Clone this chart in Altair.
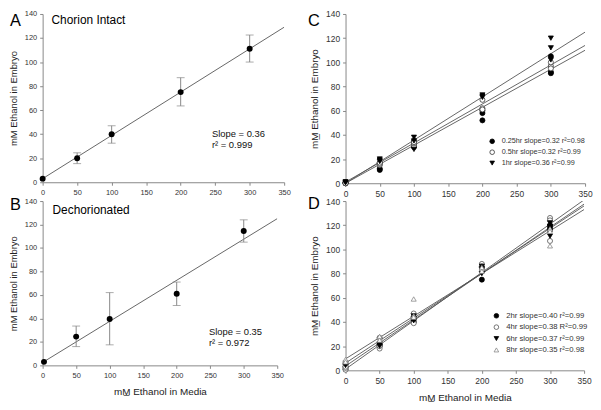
import altair as alt
import pandas as pd

FONT = "Liberation Sans"

x_ticks = [0, 50, 100, 150, 200, 250, 300, 350]
y_ticks = [0, 20, 40, 60, 80, 100, 120, 140]

# Panel A - Chorion Intact
a_x = [0, 50, 100, 200, 300]
a_mean = [3, 20, 40, 75, 111]
a_low = [3, 15.5, 32.5, 63.5, 100]
a_high = [3, 24.5, 47, 87, 122.5]
a_fit_x = [0, 350]
a_fit_y = [3, 129]

# Panel B - Dechorionated
b_x = [2, 50, 100, 200, 300]
b_mean = [3, 24.5, 39.5, 61, 114.5]
b_low = [3, 16, 17.5, 51, 105]
b_high = [3, 33.5, 62, 71, 124]
b_fit_x = [0, 350]
b_fit_y = [2.5, 125]

# Panel C - short exposures
c_labels = ["0.25hr slope=0.32 r²=0.98", "0.5hr slope=0.32 r²=0.99", "1hr slope=0.36 r²=0.99"]
c_x = [0, 0, 0, 50, 50, 50, 100, 100, 100, 200, 200, 200, 300, 300, 300]
c_y_025 = [0, 0.5, 0, 12, 11, 17, 30, 33, 35, 52, 58, 60, 105, 92, 91]
c_y_05 = [0.5, 1, 0, 15, 16, 17, 31, 33, 34, 62, 69, 61, 97, 95, 100]
c_y_1 = [1, 0.5, 1, 20, 19, 18, 38, 35, 28, 73, 71, 72, 120, 112, 102]
c_fit_x = [0, 350]
c_fit_025 = [0, 110]
c_fit_05 = [1, 114]
c_fit_1 = [0, 125]

# Panel D - long exposures
d_labels = ["2hr slope=0.40 r²=0.99", "4hr slope=0.38 R²=0.99", "6hr slope=0.37 r²=0.99", "8hr slope=0.35 r²=0.98"]
d_x = c_x
d_y_2 = [1, 3, 5, 21, 22, 20, 42, 44, 40, 75, 82, 85, 118, 120, 116]
d_y_4 = [0.5, 2, 3, 18, 20, 27, 47, 39, 44, 88, 86, 83, 126, 124, 107]
d_y_6 = [5, 6, 4, 22, 20, 25, 41, 43, 45, 80, 86, 84, 122, 111, 119]
d_y_8 = [8, 9, 7, 27, 28, 25, 59, 45, 44, 84, 85, 82, 103, 117, 115]
d_fit_x = [0, 350]
d_fit_2 = [1, 141]
d_fit_4 = [3.5, 137.5]
d_fit_6 = [6, 136]
d_fit_8 = [9.5, 133]

YT_PLAIN = "mM Ethanol in Embryo"
YT_UNDER = "mM\u0332 Ethanol in Embryo"
MEDIA = "mM\u0332 Ethanol in Media"


def axis(vals, title, lsize, tsize, tpad):
    kw = dict(values=vals, grid=False, domainColor="#888", tickColor="#888", tickSize=3,
              labelColor="#333", labelFont=FONT, labelFontSize=lsize, labelFlush=False,
              labelOverlap=False, labelPadding=3, titleFont=FONT, titleFontSize=tsize,
              titleFontWeight="normal", titleColor="#222", titlePadding=tpad)
    kw["title"] = title
    return alt.Axis(**kw)


def enc_x(field, title, lsize, tsize):
    return alt.X(field, scale=alt.Scale(domain=[0, 350], nice=False),
                 axis=axis(x_ticks, title, lsize, tsize, 8))


def enc_y(field, title, lsize, tsize):
    return alt.Y(field, scale=alt.Scale(domain=[0, 140], nice=False),
                 axis=axis(y_ticks, title, lsize, tsize, 6))


def texts(items):
    layers = []
    for t, x, y, size, color in items:
        layers.append(
            alt.Chart(pd.DataFrame({"t": [t]})).mark_text(
                align="left", baseline="alphabetic", font=FONT, fontSize=size, color=color
            ).encode(text="t:N", x=alt.value(x), y=alt.value(y))
        )
    return layers


def mean_panel(xs, mean, low, high, fx, fy, w, h, xtitle, ytitle, notes):
    ls, ts = 7.5, 9.5
    df = pd.DataFrame({"x": xs, "m": mean, "lo": low, "hi": high})
    base = alt.Chart(df)
    X = enc_x("x:Q", xtitle, ls, 10)
    fit = alt.Chart(pd.DataFrame({"x": fx, "y": fy})).mark_line(
        color="#555", strokeWidth=0.9, clip=True
    ).encode(x=X, y=enc_y("y:Q", ytitle, ls, ts))
    eb = base.transform_filter("datum.hi > datum.lo")
    err = eb.mark_rule(color="#888", strokeWidth=1).encode(
        x=X, y=enc_y("lo:Q", ytitle, ls, ts), y2="hi:Q")
    cap_lo = eb.mark_tick(orient="horizontal", size=8, thickness=1, color="#888").encode(
        x=X, y=enc_y("lo:Q", ytitle, ls, ts))
    cap_hi = eb.mark_tick(orient="horizontal", size=8, thickness=1, color="#888").encode(
        x=X, y=enc_y("hi:Q", ytitle, ls, ts))
    pts = base.mark_circle(size=36, color="black", opacity=1).encode(
        x=X, y=enc_y("m:Q", ytitle, ls, ts))
    return alt.layer(fit, err, cap_lo, cap_hi, pts, *texts(notes)).properties(width=w, height=h)


def series_panel(labels, xs, ys_list, fx, fy_list, shapes, fills, strokes, w, h, xtitle, ytitle,
                 legx, legy, lfont, rowpad, notes):
    ls, ts = 8.5, 10
    rows = []
    for lab, ys in zip(labels, ys_list):
        for xv, yv in zip(xs, ys):
            rows.append({"x": xv, "y": yv, "s": lab})
    df = pd.DataFrame(rows)
    frows = []
    for lab, fy in zip(labels, fy_list):
        for xv, yv in zip(fx, fy):
            frows.append({"x": xv, "y": yv, "s": lab})
    fdf = pd.DataFrame(frows)
    X = enc_x("x:Q", xtitle, ls, 10)
    Y = enc_y("y:Q", ytitle, ls, ts)
    leg = alt.Legend(title=None, orient="none", legendX=legx, legendY=legy, padding=0,
                     labelFont=FONT, labelFontSize=lfont, labelColor="#333", rowPadding=rowpad,
                     symbolSize=22, labelOffset=6, symbolStrokeWidth=0.8)
    fit = alt.Chart(fdf).mark_line(color="#555", strokeWidth=0.9, clip=True).encode(
        x=X, y=Y, detail="s:N")
    pts = alt.Chart(df).mark_point(filled=True, size=26, opacity=1, strokeWidth=0.8).encode(
        x=X, y=Y,
        shape=alt.Shape("s:N", scale=alt.Scale(domain=labels, range=shapes), legend=leg),
        fill=alt.Fill("s:N", scale=alt.Scale(domain=labels, range=fills), legend=leg),
        stroke=alt.Stroke("s:N", scale=alt.Scale(domain=labels, range=strokes), legend=leg),
    )
    return alt.layer(fit, pts, *texts(notes)).properties(width=w, height=h)


panel_a = mean_panel(a_x, a_mean, a_low, a_high, a_fit_x, a_fit_y, 244, 170, None, YT_PLAIN,
                     [("A", -33, 12, 16.5, "black"), ("Chorion Intact", 9, 10, 12, "black"),
                      ("Slope = 0.36", 171, 124, 9.5, "#111"), ("r² = 0.999", 171, 135.5, 9.5, "#111")])
panel_b = mean_panel(b_x, b_mean, b_low, b_high, b_fit_x, b_fit_y, 237, 166, MEDIA, YT_PLAIN,
                     [("B", -33, 9, 16.5, "black"), ("Dechorionated", 10, 13, 12, "black"),
                      ("Slope = 0.35", 168, 135, 9.5, "#111"), ("r² = 0.972", 168, 146.5, 9.5, "#111")])
panel_c = series_panel(c_labels, c_x, [c_y_025, c_y_05, c_y_1], c_fit_x, [c_fit_025, c_fit_05, c_fit_1],
                       ["circle", "circle", "triangle-down"], ["black", "white", "black"],
                       ["black", "#333", "black"], 242, 171, None, YT_UNDER, 144.5, 125, 7.3, 2,
                       [("C", -38, 12, 16.5, "black")])
panel_d = series_panel(d_labels, d_x, [d_y_2, d_y_4, d_y_6, d_y_8], d_fit_x, [d_fit_2, d_fit_4, d_fit_6, d_fit_8],
                       ["circle", "circle", "triangle-down", "triangle-up"], ["black", "white", "black", "white"],
                       ["black", "#555", "black", "#888"], 241, 171, MEDIA, YT_UNDER, 148.5, 112, 7.8, 2.5,
                       [("D", -38, 8, 16.5, "black")])

RES = dict(shape="independent", fill="independent", stroke="independent")

chart = alt.concat(panel_a, panel_c, panel_b, panel_d, columns=2,
                   spacing={"row": 18, "column": 62}, bounds="flush").resolve_scale(
    **RES).resolve_legend(**RES).configure_view(stroke=None).properties(padding=0, background="white")

chart.save("out.html", embed_options={"renderer": "svg", "actions": False})
